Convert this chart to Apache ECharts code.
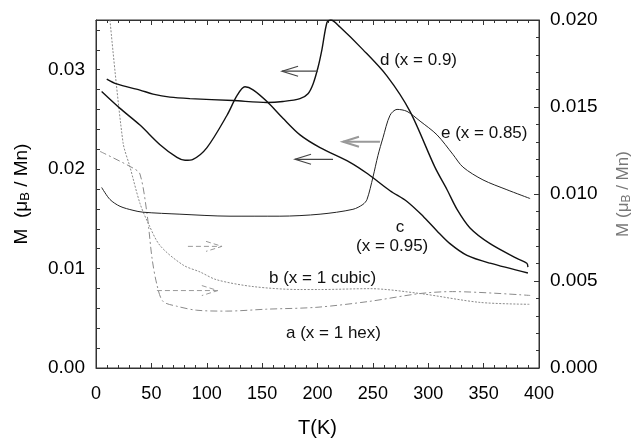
<!DOCTYPE html>
<html>
<head>
<meta charset="utf-8">
<title>M(T)</title>
<script src="https://cdn.jsdelivr.net/npm/echarts@6/dist/echarts.min.js"></script>
<style>
  html, body { margin: 0; background: #fff; }
  #chart { width: 641px; height: 443px; }
</style>
</head>
<body>
<div id="chart"></div>
<script>
// d (x = 0.9) -- left axis
const dT = [9.7, 18.7, 39.7, 51.5, 66.8, 84.9, 123.7, 154.4, 168.8, 184.2, 191.4, 196, 200.5, 204, 208.6, 212, 220.3, 241, 262.8, 283.5, 306, 317, 326, 337.7, 355.8, 380, 389, 390];
const dM = [0.02906, 0.02857, 0.02795, 0.02755, 0.02724, 0.02709, 0.0269, 0.0267, 0.0268, 0.02709, 0.02759, 0.02857, 0.03025, 0.03202, 0.03478, 0.035, 0.03429, 0.03202, 0.02936, 0.02581, 0.0202, 0.01793, 0.01596, 0.01409, 0.01251, 0.01103, 0.01054, 0.01015];
// c (x = 0.95) -- left axis
const cT = [5.1, 21.7, 39.7, 57.8, 73.1, 80.4, 87.6, 100.2, 118.3, 127.3, 134.5, 141.8, 154.4, 168.8, 184.2, 202.3, 229.3, 245.6, 265.5, 280.8, 295.3, 307.9, 319.6, 335, 355.8, 390];
const cM = [0.02781, 0.02611, 0.02443, 0.02246, 0.02118, 0.02089, 0.02099, 0.02217, 0.02542, 0.02739, 0.02828, 0.02798, 0.0268, 0.02512, 0.02345, 0.02217, 0.02069, 0.01951, 0.01783, 0.01675, 0.01527, 0.01379, 0.01251, 0.01133, 0.01054, 0.00956];
// e (x = 0.85) -- left axis
const eT = [5.1, 12.6, 21.7, 33.4, 42.4, 75.8, 121, 166, 202.3, 232, 241, 244.7, 250.1, 254.6, 259.1, 265.5, 271.8, 280.8, 292.6, 307.9, 322.3, 331.4, 349.4, 371, 392];
const eM = [0.01816, 0.01695, 0.01626, 0.01586, 0.01567, 0.01547, 0.01527, 0.01527, 0.01547, 0.01596, 0.01645, 0.01695, 0.01921, 0.02138, 0.02315, 0.02542, 0.02601, 0.02581, 0.02483, 0.02345, 0.02148, 0.0202, 0.01892, 0.01793, 0.01704];
// b (x = 1 cubic) -- right axis
const bT = [12.6, 24.4, 30.7, 39.7, 47, 57.8, 78.6, 93.9, 109, 141.8, 184, 202, 247, 292.6, 346.7, 392];
const bM = [0.02, 0.01296, 0.01155, 0.00946, 0.00834, 0.00704, 0.00592, 0.00552, 0.00507, 0.00468, 0.00451, 0.00451, 0.00456, 0.00428, 0.00377, 0.00366];
// a (x = 1 hex) -- right axis
const aT = [3.6, 33.4, 39.7, 46, 50.6, 55, 60.5, 73, 91, 118, 154, 199.5, 247, 292.6, 322, 392];
const aM = [0.01245, 0.01149, 0.01115, 0.0089, 0.00631, 0.00479, 0.00383, 0.00355, 0.00332, 0.00327, 0.00338, 0.00349, 0.00383, 0.00428, 0.00439, 0.00417];

// arrows: [tail T, tip T, M]
const arrowsLeft = [[200.5, 168, 0.02985], [214, 179.7, 0.02099]];
const arrowE = [[256.4, 223, 0.02276]];
const arrowsRight = [[83, 113.8, 0.00699], [55, 110, 0.00445]];

const xTicks = [0, 400, 50];

const zip = (xs, ys) => xs.map((x, i) => [x, ys[i]]);

const chart = echarts.init(document.getElementById('chart'));

const FONT = '"Liberation Sans", Arial, Helvetica, sans-serif';
const AXIS_COLOR = '#333';
const frame = () => ({ show: true, onZero: false, lineStyle: { color: AXIS_COLOR, width: 1 } });
const tick = len => ({ show: true, inside: true, length: len, lineStyle: { color: AXIS_COLOR } });
const minor = () => ({ show: true, splitNumber: 5, length: 3, lineStyle: { color: AXIS_COLOR } });

function arrowSeries (data, yAxisIndex, stroke, width, dash) {
  return {
    type: 'custom',
    yAxisIndex: yAxisIndex,
    data: data,
    encode: { x: [0, 1], y: 2 },
    silent: true,
    z: 5,
    renderItem: function (params, api) {
      const tail = api.coord([api.value(0), api.value(2)]);
      const tip = api.coord([api.value(1), api.value(2)]);
      const dir = tip[0] > tail[0] ? 1 : -1;
      const style = { stroke: stroke, lineWidth: width, lineDash: dash, fill: null };
      return {
        type: 'group',
        children: [
          { type: 'line', shape: { x1: tail[0], y1: tail[1], x2: tip[0], y2: tip[1] }, style: style },
          {
            type: 'polyline',
            shape: { points: [[tip[0] - dir * 16, tip[1] - 5], tip, [tip[0] - dir * 16, tip[1] + 5]] },
            style: style
          }
        ]
      };
    }
  };
}

function curve (name, xs, ys, yAxisIndex, color, width, type) {
  return {
    name: name,
    type: 'line',
    yAxisIndex: yAxisIndex,
    data: zip(xs, ys),
    showSymbol: false,
    smooth: 0.3,
    lineStyle: { color: color, width: width, type: type || 'solid' },
    z: 3
  };
}

function label (text, x, y, align) {
  return {
    type: 'text',
    style: { text: text, x: x, y: y, font: '17px ' + FONT, fill: '#111', align: align || 'left', verticalAlign: 'middle' }
  };
}

function xAxisBase () {
  return {
    type: 'value',
    min: xTicks[0],
    max: xTicks[1],
    interval: xTicks[2],
    axisLine: frame(),
    axisTick: tick(5),
    minorTick: minor(),
    splitLine: { show: false }
  };
}

const option = {
  animation: false,
  grid: { left: 96, right: 102, top: 20, bottom: 68, show: true, borderColor: AXIS_COLOR, borderWidth: 1, backgroundColor: 'transparent' },
  textStyle: { fontFamily: FONT },
  xAxis: [
    Object.assign(xAxisBase(), {
      position: 'bottom',
      axisLabel: { fontSize: 18, color: '#000', margin: 17, fontFamily: FONT },
      name: 'T(K)',
      nameLocation: 'middle',
      nameGap: 50,
      nameTextStyle: { fontSize: 20, color: '#000', fontFamily: FONT }
    }),
    Object.assign(xAxisBase(), { position: 'top', axisLabel: { show: false } })
  ],
  yAxis: [
    {
      // ticks every 0.002, labels only at whole hundredths
      type: 'value',
      position: 'left',
      min: 0,
      max: 0.035,
      interval: 0.002,
      axisLine: frame(),
      axisTick: tick(4),
      axisLabel: {
        fontSize: 19, color: '#000', margin: 11, fontFamily: FONT, showMaxLabel: false,
        formatter: v => (Math.abs(v * 100 - Math.round(v * 100)) < 1e-6 ? v.toFixed(2) : '')
      },
      splitLine: { show: false },
      name: 'M  (μ{s|B} / Mn)',
      nameLocation: 'middle',
      nameRotate: 90,
      nameGap: 64,
      nameTextStyle: {
        fontSize: 19, color: '#000', fontFamily: FONT,
        rich: { s: { fontSize: 13, padding: [8, 0, 0, 0], fontFamily: FONT, color: '#000' } }
      }
    },
    {
      type: 'value',
      position: 'right',
      min: 0,
      max: 0.02,
      interval: 0.005,
      axisLine: frame(),
      axisTick: tick(5),
      minorTick: minor(),
      axisLabel: { fontSize: 19, color: '#000', margin: 11, fontFamily: FONT, formatter: v => v.toFixed(3) },
      splitLine: { show: false },
      name: 'M (μ{s|B} / Mn)',
      nameLocation: 'middle',
      nameRotate: 90,
      nameGap: 74,
      nameTextStyle: {
        fontSize: 17, color: '#777', fontFamily: FONT,
        rich: { s: { fontSize: 12, padding: [8, 0, 0, 0], fontFamily: FONT, color: '#777' } }
      }
    }
  ],
  graphic: [
    label('d (x = 0.9)', 380, 60),
    label('e (x = 0.85)', 441, 133),
    label('c', 400, 227, 'center'),
    label('(x = 0.95)', 356, 246),
    label('b (x = 1 cubic)', 269, 278),
    label('a (x = 1 hex)', 286, 333)
  ],
  series: [
    curve('b', bT, bM, 1, '#8a8a8a', 1, [2, 1.5]),
    curve('a', aT, aM, 1, '#8a8a8a', 1, [7, 3, 2, 3]),
    curve('e', eT, eM, 0, '#222', 1),
    curve('c', cT, cM, 0, '#111', 1.4),
    curve('d', dT, dM, 0, '#111', 1.4),
    arrowSeries(arrowsLeft, 0, '#444', 1.2, null),
    arrowSeries(arrowE, 0, '#999', 2, null),
    arrowSeries(arrowsRight, 1, '#999', 1, [5, 3])
  ]
};

chart.setOption(option);
</script>
</body>
</html>
